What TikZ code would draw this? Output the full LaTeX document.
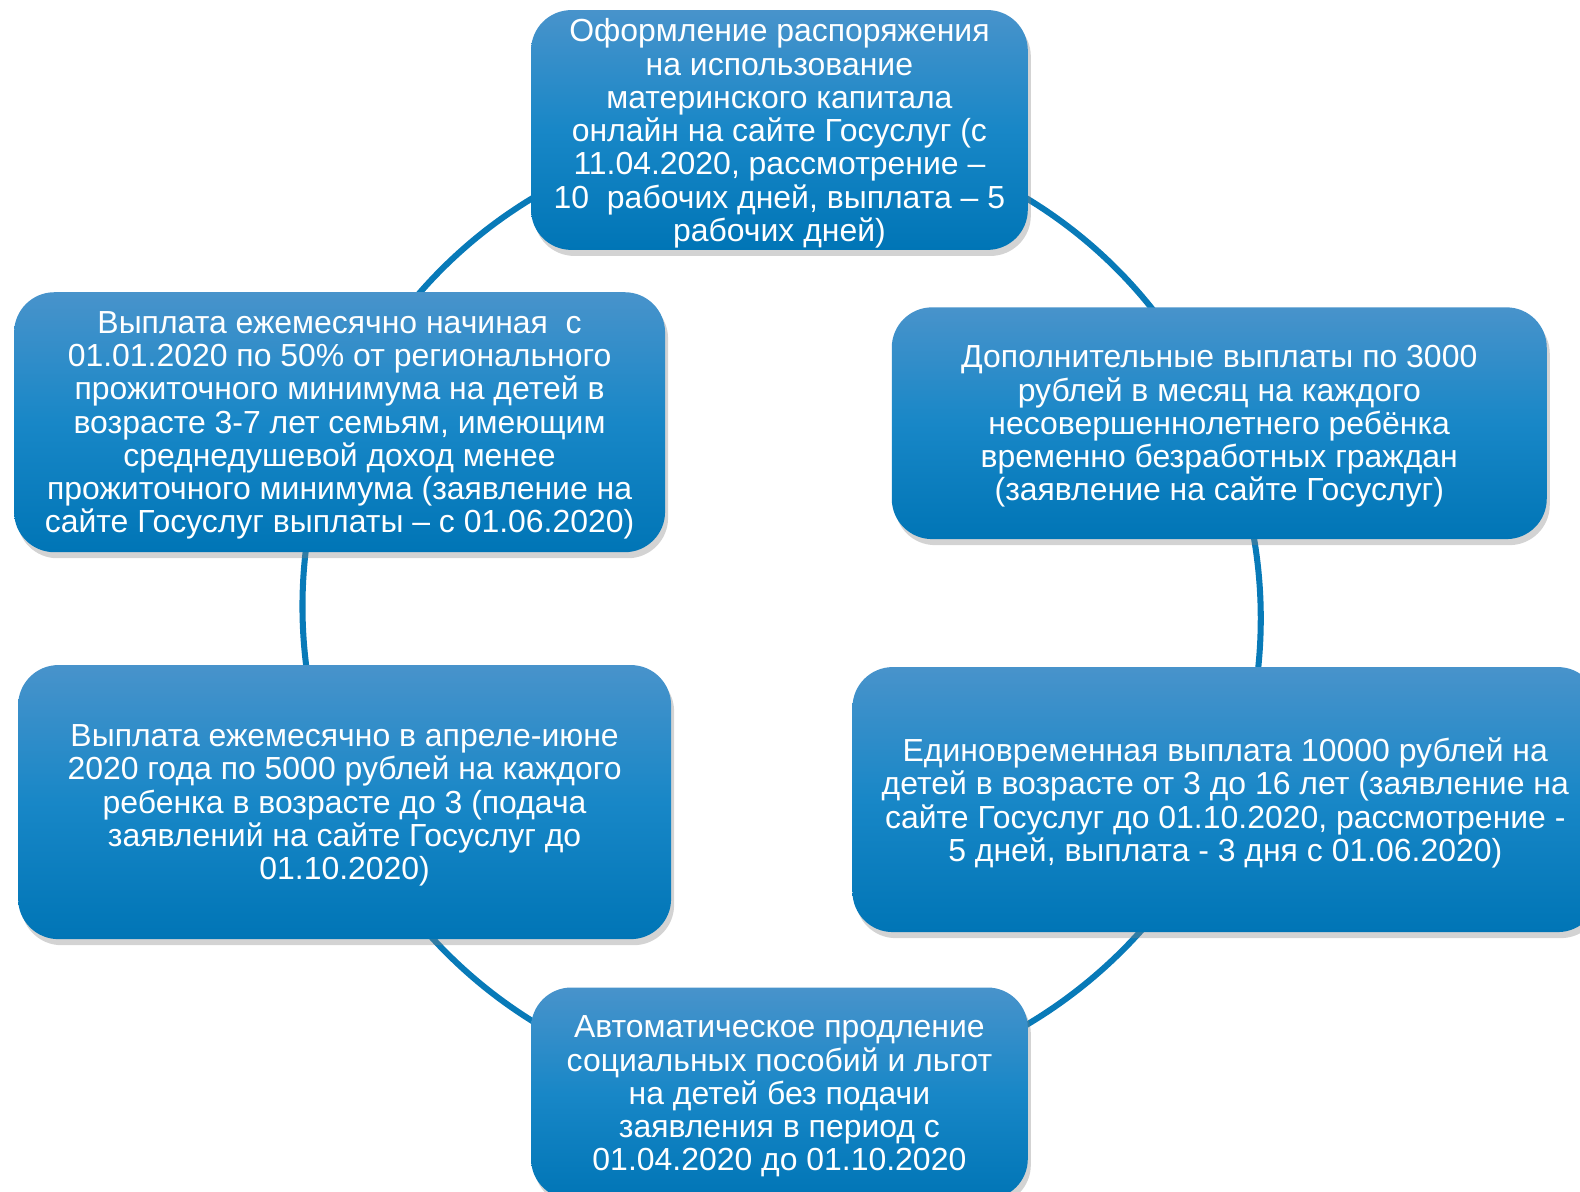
\documentclass[tikz,border=0pt]{standalone}
\usepackage{fontspec}
\setmainfont{Liberation Sans}
\usetikzlibrary{shadows,backgrounds}
\definecolor{verh}{RGB}{72,147,203}
\definecolor{sered}{RGB}{24,135,199}
\definecolor{niz}{RGB}{0,117,182}
\definecolor{liniya}{RGB}{8,122,184}
\begin{document}
\begin{tikzpicture}[x=0.5pt,y=0.5pt,
blok/.style={rectangle,rounded corners=20pt,top color=verh,bottom color=niz,middle color=sered,
  text=white,align=center,inner sep=0pt,text depth=0pt,font=\fontsize{15.85}{16.5}\selectfont,
  drop shadow={shadow xshift=1.5pt,shadow yshift=-3pt,opacity=0.35}},
duga/.style={liniya,line width=3pt}]
\node[blok,minimum width=246.5pt,minimum height=119pt] (oform) at (773.5,-129) {Оформление распоряжения\\на использование\\материнского капитала\\онлайн на сайте Госуслуг (с\\11.04.2020, рассмотрение –\\10\ \ рабочих дней, выплата – 5\\рабочих дней)};
\node[blok,minimum width=325pt,minimum height=115pt] (dop) at (1210,-420) {Дополнительные выплаты по 3000\\рублей в месяц на каждого\\несовершеннолетнего ребёнка\\временно безработных граждан\\(заявление на сайте Госуслуг)};
\node[blok,minimum width=370pt,minimum height=131.5pt] (edin) at (1216,-793.5) {Единовременная выплата 10000 рублей на\\детей в возрасте от 3 до 16 лет (заявление на\\сайте Госуслуг до 01.10.2020, рассмотрение -\\5 дней, выплата - 3 дня с 01.06.2020)};
\node[blok,minimum width=246.5pt,minimum height=105pt] (avto) at (773.5,-1085) {Автоматическое продление\\социальных пособий и льгот\\на детей без подачи\\заявления в период с\\01.04.2020 до 01.10.2020};
\node[blok,minimum width=324pt,minimum height=136pt] (mes) at (342,-796) {Выплата ежемесячно в апреле-июне\\2020 года по 5000 рублей на каждого\\ребенка в возрасте до 3 (подача\\заявлений на сайте Госуслуг до\\01.10.2020)};
\node[blok,minimum width=323pt,minimum height=129pt] (nach) at (337,-419) {Выплата ежемесячно начиная\ \ с\\01.01.2020 по 50\% от регионального\\прожиточного минимума на детей в\\возрасте 3-7 лет семьям, имеющим\\среднедушевой доход менее\\прожиточного минимума (заявление на\\сайте Госуслуг выплаты – с 01.06.2020)};
\begin{scope}[on background layer]
\draw[duga] (oform.center) to[bend left=34,looseness=0.93] (dop.center);
\draw[duga] (dop.center) to[bend left=23,looseness=0.89] (edin.center);
\draw[duga] (edin.center) to[bend left=33,looseness=0.93] (avto.center);
\draw[duga] (avto.center) to[bend left=33,looseness=0.93] (mes.center);
\draw[duga] (mes.center) to[bend left=23.5,looseness=0.89] (nach.center);
\draw[duga] (nach.center) to[bend left=34,looseness=0.93] (oform.center);
\end{scope}
\pgfresetboundingbox
\useasboundingbox (0,0) rectangle (1568,-1182);
\end{tikzpicture}
\end{document}
